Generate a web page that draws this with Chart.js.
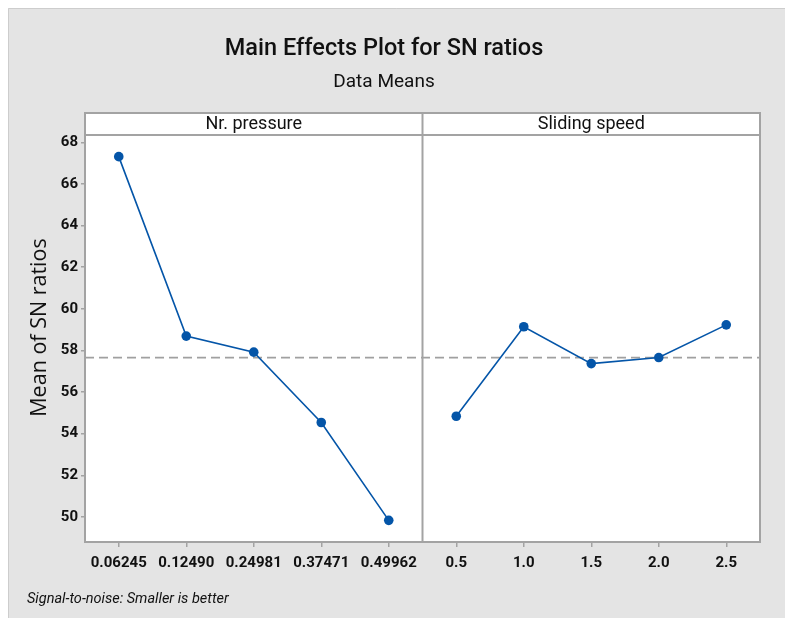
<!DOCTYPE html>
<html><head><meta charset="utf-8">
<script src="https://cdn.jsdelivr.net/npm/chart.js@4.4.1/dist/chart.umd.min.js"></script>
<style>html,body{margin:0;padding:0;background:#fff;} canvas{display:block;}</style>
</head><body><canvas id="c" width="785" height="618"></canvas>
<script>
const factorNames = ["Nr. pressure", "Sliding speed"];
const pressureLevels = ["0.06245", "0.12490", "0.24981", "0.37471", "0.49962"];
const speedLevels = ["0.5", "1.0", "1.5", "2.0", "2.5"];
const pressureSN = [67.31, 58.69, 57.92, 54.54, 49.84];
const speedSN = [54.84, 59.14, 57.37, 57.66, 59.23];
const yTicks = [50, 52, 54, 56, 58, 60, 62, 64, 66, 68];
const titleText = "Main Effects Plot for SN ratios";
const subtitleText = "Data Means";
const yTitleText = "Mean of SN ratios";
const footnoteText = "Signal-to-noise: Smaller is better";

const NARROW = 'Roboto, "Liberation Sans", sans-serif';
const WIDE = '"Open Sans", "DejaVu Sans", sans-serif';
const BLUE = '#0455a8';
const FRAME = '#a3a3a3';

const allLevels = pressureLevels.concat(speedLevels);
const nLeft = pressureLevels.length;
const leftPts = pressureSN.map((v, i) => ({x: i, y: v}));
const rightPts = speedSN.map((v, i) => ({x: nLeft + i, y: v}));
const allVals = pressureSN.concat(speedSN);
const grandMean = allVals.reduce((a, b) => a + b, 0) / allVals.length;
const xMin = -0.5, xMax = allLevels.length - 0.5;

const decor = {
  id: 'decor',
  beforeDraw(chart) {
    const ctx = chart.ctx, W = chart.width, H = chart.height, a = chart.chartArea;
    ctx.save();
    ctx.fillStyle = '#ffffff'; ctx.fillRect(0, 0, W, H);
    ctx.fillStyle = '#e4e4e4'; ctx.fillRect(8, 8, W - 8, H - 8);
    ctx.strokeStyle = '#cdcdcd'; ctx.lineWidth = 1;
    ctx.beginPath(); ctx.moveTo(8.5, H); ctx.lineTo(8.5, 8.5); ctx.lineTo(W, 8.5); ctx.stroke();
    ctx.fillStyle = '#ffffff';
    ctx.fillRect(a.left, a.top - 22, a.right - a.left, a.bottom - a.top + 22);
    ctx.restore();
  },
  afterDraw(chart) {
    const ctx = chart.ctx, a = chart.chartArea, xs = chart.scales.x;
    const stripTop = a.top - 22;
    const divX = xs.getPixelForValue(nLeft - 0.5);
    ctx.save();
    ctx.strokeStyle = FRAME; ctx.lineWidth = 2;
    ctx.strokeRect(a.left, stripTop, a.right - a.left, a.bottom - stripTop);
    ctx.beginPath();
    ctx.moveTo(a.left, a.top); ctx.lineTo(a.right, a.top);
    ctx.moveTo(divX, stripTop); ctx.lineTo(divX, a.bottom);
    ctx.stroke();
    ctx.fillStyle = '#111';
    ctx.font = '18px ' + NARROW;
    ctx.textAlign = 'center'; ctx.textBaseline = 'middle';
    ctx.fillText(factorNames[0], (a.left + divX) / 2, stripTop + 11);
    ctx.fillText(factorNames[1], (divX + a.right) / 2, stripTop + 11);
    ctx.font = 'italic 14.5px ' + NARROW;
    ctx.textAlign = 'left';
    ctx.fillText(footnoteText, 27, 599);
    // y-axis title, centred on the panel including its strip
    ctx.save();
    ctx.translate(40, (stripTop + a.bottom) / 2);
    ctx.rotate(-Math.PI / 2);
    ctx.font = '21.5px ' + WIDE;
    ctx.textAlign = 'center'; ctx.textBaseline = 'middle';
    ctx.fillText(yTitleText, 0, 0);
    ctx.restore();
    ctx.restore();
  }
};

new Chart(document.getElementById('c'), {
  type: 'line',
  data: {
    datasets: [
      {data: leftPts, borderColor: BLUE, backgroundColor: BLUE, borderWidth: 1.6,
       pointRadius: 4.8, pointBackgroundColor: BLUE, pointBorderWidth: 0, order: 1},
      {data: rightPts, borderColor: BLUE, backgroundColor: BLUE, borderWidth: 1.6,
       pointRadius: 4.8, pointBackgroundColor: BLUE, pointBorderWidth: 0, order: 1},
      {data: [{x: xMin, y: grandMean}, {x: xMax, y: grandMean}], borderColor: '#a0a0a0',
       borderWidth: 1.6, borderDash: [9, 5], pointRadius: 0, order: 2}
    ]
  },
  options: {
    responsive: false, animation: false, devicePixelRatio: 1,
    layout: {padding: {left: 8, right: 25, top: 0, bottom: 0}},
    plugins: {
      legend: {display: false}, tooltip: {enabled: false},
      title: {display: true, text: titleText, color: '#111',
        font: {family: NARROW, size: 23.5, weight: 500, lineHeight: 1.2}, padding: {top: 35, bottom: 0}},
      subtitle: {display: true, text: subtitleText, color: '#111',
        font: {family: NARROW, size: 19, weight: 'normal', lineHeight: 1.2}, padding: {top: 7.4, bottom: 41.6}}
    },
    scales: {
      x: {
        type: 'linear', min: xMin, max: xMax,
        afterBuildTicks: s => { s.ticks = allLevels.map((_, i) => ({value: i})); },
        afterFit: s => { s.height = 76; },
        grid: {drawOnChartArea: false, drawTicks: true, tickLength: 5, color: FRAME, lineWidth: 1.5},
        border: {display: false},
        ticks: {autoSkip: false, maxRotation: 0, padding: 7, color: '#111',
          font: {family: NARROW, size: 15, weight: 'bold'},
          callback: (v, i) => allLevels[i]}
      },
      y: {
        min: 48.8, max: 68.35,
        afterBuildTicks: s => { s.ticks = yTicks.map(v => ({value: v})); },
        afterFit: s => { s.width = 77; },
        grid: {drawOnChartArea: false, drawTicks: true, tickLength: 4, color: FRAME, lineWidth: 1.5},
        border: {display: false},
        ticks: {padding: 3, color: '#111', font: {family: NARROW, size: 15, weight: 'bold'}},
        title: {display: false, text: yTitleText}
      }
    }
  },
  plugins: [decor]
});
</script>
</body></html>
